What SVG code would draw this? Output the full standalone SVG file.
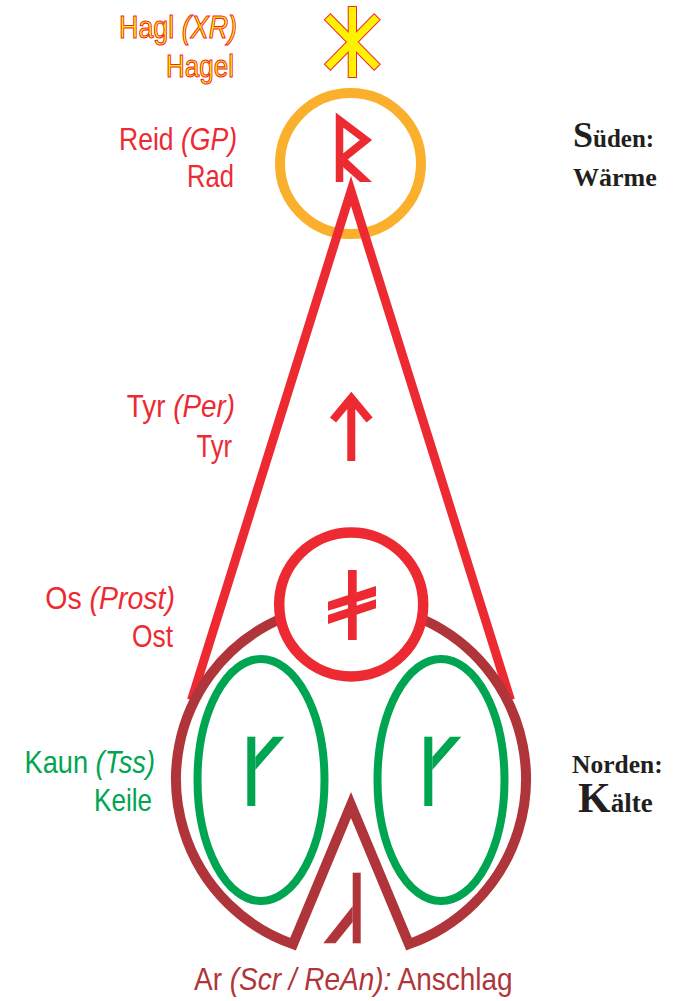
<svg xmlns="http://www.w3.org/2000/svg" width="675" height="1001" viewBox="0 0 675 1001">
<style>
.lbl{font-family:"Liberation Sans",Arial,sans-serif;font-size:32px;text-anchor:end}
.it{font-style:italic}
.red{fill:#ed2a32}
.grn{fill:#00a551}
.brn{fill:#af353a}
.hag{fill:#fff200;stroke:#ed2a32;stroke-width:1.1px}
.bl{font-family:"Liberation Serif","DejaVu Serif",serif;font-weight:bold;fill:#231f20}
.rs{fill:#ed2a32}
.gs{fill:#00a551}
</style>
<rect width="675" height="1001" fill="#ffffff"/>

<g id="node-reid">
<circle cx="350.5" cy="163.5" r="70.5" fill="none" stroke="#fbb02d" stroke-width="10"/>
<path d="M339.5,182 V120 L366,140 L341,160" fill="none" stroke="#ed2a32" stroke-width="7.5" stroke-linejoin="miter" stroke-miterlimit="10"/>
<polygon class="rs" points="343,155 372,182 360,182 343,167"/>
<text class="lbl red" transform="translate(237 150) scale(0.83 1)">Reid <tspan class="it">(GP)</tspan></text>
<text class="lbl red" transform="translate(234 187) scale(0.80 1)">Rad</text>
</g>

<g id="connectors">
<path d="M191.5,700 L351,191 L510.5,700" fill="none" stroke="#ed2a32" stroke-width="9" stroke-linejoin="miter" stroke-miterlimit="10"/>
</g>

<g id="node-ar">
<path d="M293,944.1 A175 175 0 1 1 409,944.1 L351,805 Z" fill="none" stroke="#af353a" stroke-width="10" stroke-linejoin="miter" stroke-miterlimit="10"/>
<rect class="brn" x="352.7" y="872.7" width="8" height="70.6"/>
<polygon class="brn" points="323.3,943.3 335.5,943.3 352.7,922 352.7,906"/>
<text class="lbl brn" transform="translate(353.3 990) scale(0.874 1)" style="text-anchor:middle">Ar <tspan class="it">(Scr / ReAn):</tspan> Anschlag</text>
</g>

<g id="node-os">
<circle cx="351.2" cy="604.5" r="72" fill="#ffffff" stroke="#ed2a32" stroke-width="10.5"/>
<rect class="rs" x="348" y="570" width="8.7" height="70"/>
<polygon class="rs" points="328,601.7 376,586 376,596 328,610.7"/>
<polygon class="rs" points="328,615 376,599.3 376,608.3 328,624"/>
<text class="lbl red" transform="translate(175 609) scale(0.89 1)">Os <tspan class="it">(Prost)</tspan></text>
<text class="lbl red" transform="translate(173 647) scale(0.823 1)">Ost</text>
</g>

<g id="node-kaun-left">
<ellipse cx="261" cy="780" rx="63.5" ry="121" fill="none" stroke="#00a551" stroke-width="8"/>
<rect class="gs" x="247.3" y="736.7" width="8" height="69.3"/>
<polygon class="gs" points="255.3,757 273,736.7 284.3,736.7 255.3,770"/>
<text class="lbl grn" transform="translate(155 773) scale(0.85 1)">Kaun <tspan class="it">(Tss)</tspan></text>
<text class="lbl grn" transform="translate(152 811) scale(0.815 1)">Keile</text>
</g>

<g id="node-kaun-right">
<ellipse cx="441" cy="780" rx="63.5" ry="121" fill="none" stroke="#00a551" stroke-width="8"/>
<rect class="gs" x="424.3" y="736.7" width="8" height="69.3"/>
<polygon class="gs" points="432.3,757 450,736.7 461.3,736.7 432.3,770"/>
</g>

<g id="node-tyr">
<path d="M351.3,461 V400 M333,420 L351.3,398 L369.6,420" fill="none" stroke="#ed2a32" stroke-width="8" stroke-linejoin="miter" stroke-miterlimit="10"/>
<text class="lbl red" transform="translate(235 417) scale(0.87 1)">Tyr <tspan class="it">(Per)</tspan></text>
<text class="lbl red" transform="translate(232 457) scale(0.80 1)">Tyr</text>
</g>

<g id="node-hagl">
<g fill="#ed2a32" stroke="#ed2a32" stroke-width="2">
<rect x="348.7" y="7" width="7.3" height="70"/>
<rect x="317.3" y="38.25" width="70" height="7.5" transform="rotate(45.5 352.3 42)"/>
<rect x="317.3" y="38.25" width="70" height="7.5" transform="rotate(-45.5 352.3 42)"/>
</g>
<g fill="#fff200">
<rect x="348.7" y="7" width="7.3" height="70"/>
<rect x="317.3" y="38.25" width="70" height="7.5" transform="rotate(45.5 352.3 42)"/>
<rect x="317.3" y="38.25" width="70" height="7.5" transform="rotate(-45.5 352.3 42)"/>
</g>
<text class="lbl hag" transform="translate(237 38) scale(0.84 1)">Hagl <tspan class="it">(XR)</tspan></text>
<text class="lbl hag" transform="translate(234 77) scale(0.813 1)">Hagel</text>
</g>

<g id="label-sueden">
<text class="bl" x="573" y="147" font-size="25"><tspan font-size="36">S</tspan>üden:</text>
<text class="bl" x="573" y="186" font-size="26">Wärme</text>
</g>

<g id="label-norden">
<text class="bl" x="572" y="773" font-size="25.5">Norden:</text>
<text class="bl" x="578" y="812" font-size="27"><tspan font-size="42">K</tspan>älte</text>
</g>
</svg>
